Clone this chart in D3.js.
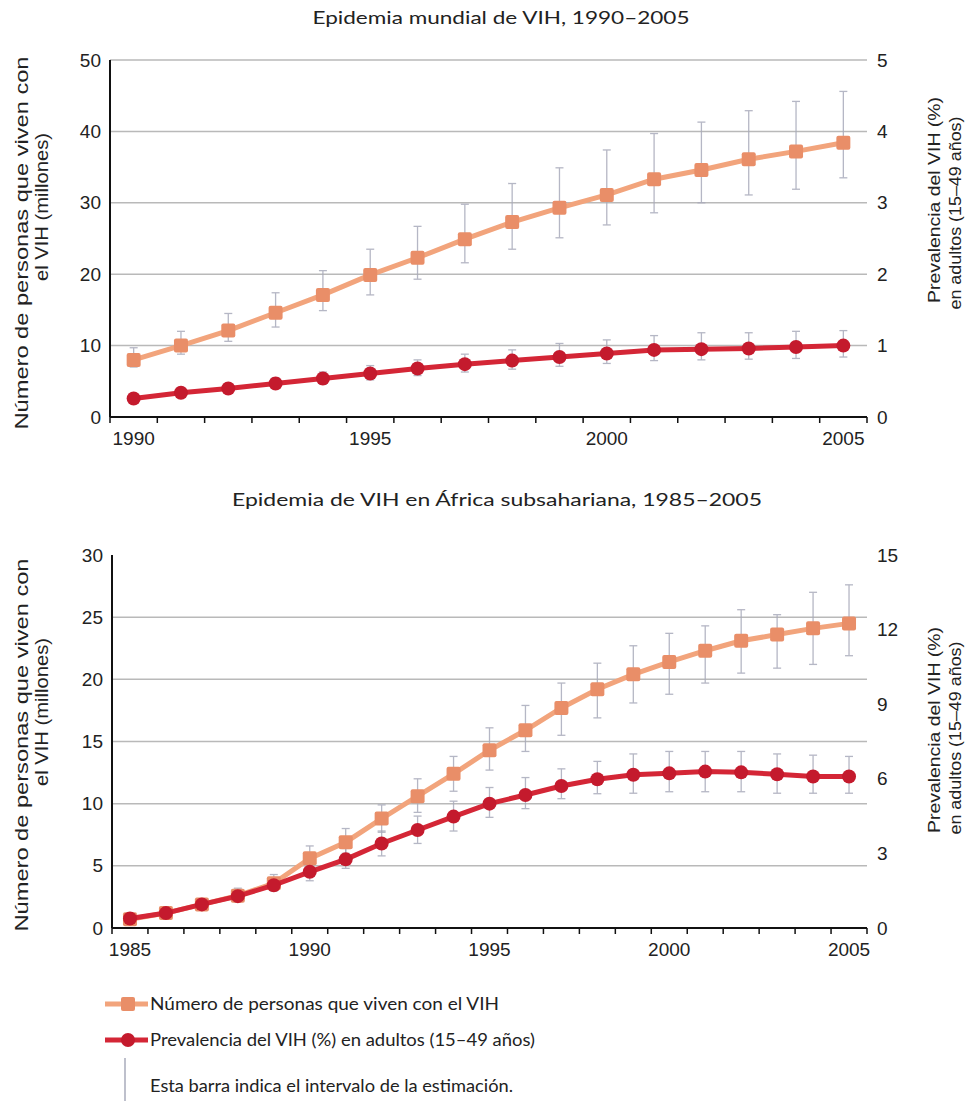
<!DOCTYPE html>
<html>
<head>
<meta charset="utf-8">
<script src="https://cdn.jsdelivr.net/npm/d3@7"></script>
<style>
  body { margin: 0; background: #fff; }
  svg { display: block; }
  .tick text { font-family: "Liberation Sans", Arial, sans-serif; font-size: 19px; fill: #222; }
</style>
</head>
<body>
<div id="chart"></div>
<script>
const width = 973;
const height = 1101;

// world, 1990-2005
const worldYears = [1990, 1991, 1992, 1993, 1994, 1995, 1996, 1997, 1998, 1999, 2000, 2001, 2002, 2003, 2004, 2005];
const worldPeople = [8.0, 10.0, 12.1, 14.6, 17.1, 19.9, 22.3, 24.9, 27.3, 29.3, 31.1, 33.3, 34.6, 36.1, 37.2, 38.4];
const worldPeopleLow = [7.0, 8.8, 10.6, 12.6, 14.9, 17.1, 19.3, 21.6, 23.5, 25.1, 26.9, 28.6, 30.0, 31.1, 31.9, 33.5];
const worldPeopleHigh = [9.7, 12.0, 14.5, 17.4, 20.5, 23.5, 26.7, 29.8, 32.7, 34.9, 37.4, 39.7, 41.3, 42.9, 44.2, 45.6];
const worldPrev = [0.26, 0.34, 0.40, 0.47, 0.54, 0.61, 0.68, 0.74, 0.79, 0.84, 0.89, 0.94, 0.95, 0.96, 0.98, 1.0];
const worldPrevLow = [0.22, 0.29, 0.34, 0.40, 0.46, 0.52, 0.58, 0.63, 0.67, 0.71, 0.75, 0.79, 0.80, 0.81, 0.82, 0.84];
const worldPrevHigh = [0.30, 0.39, 0.46, 0.55, 0.63, 0.72, 0.80, 0.88, 0.94, 1.03, 1.08, 1.14, 1.18, 1.18, 1.20, 1.21];

// sub-Saharan Africa, 1985-2005
const africaYears = [1985, 1986, 1987, 1988, 1989, 1990, 1991, 1992, 1993, 1994, 1995, 1996, 1997, 1998, 1999, 2000, 2001, 2002, 2003, 2004, 2005];
const africaPeople = [0.7, 1.2, 1.9, 2.6, 3.6, 5.6, 6.9, 8.8, 10.6, 12.4, 14.3, 15.9, 17.7, 19.2, 20.4, 21.4, 22.3, 23.1, 23.6, 24.1, 24.5];
const africaPeopleLow = [0.5, 0.9, 1.5, 2.1, 3.0, 4.7, 6.0, 7.7, 9.3, 11.0, 12.7, 14.2, 15.5, 16.9, 18.1, 18.8, 19.7, 20.5, 20.9, 21.2, 21.9];
const africaPeopleHigh = [0.9, 1.5, 2.3, 3.2, 4.3, 6.6, 8.0, 9.9, 12.0, 13.8, 16.1, 17.9, 19.7, 21.3, 22.7, 23.7, 24.3, 25.6, 25.2, 27.0, 27.6];
const africaPrev = [0.38, 0.60, 0.95, 1.28, 1.72, 2.26, 2.76, 3.40, 3.94, 4.48, 5.00, 5.35, 5.71, 5.98, 6.16, 6.22, 6.29, 6.26, 6.18, 6.09, 6.09];
const africaPrevLow = [0.30, 0.50, 0.80, 1.10, 1.50, 1.90, 2.40, 2.90, 3.40, 3.90, 4.45, 4.80, 5.20, 5.40, 5.42, 5.48, 5.48, 5.48, 5.42, 5.42, 5.42];
const africaPrevHigh = [0.45, 0.70, 1.10, 1.50, 2.00, 2.60, 3.20, 3.90, 4.50, 5.10, 5.65, 6.05, 6.40, 6.70, 7.00, 7.10, 7.10, 7.10, 7.00, 6.95, 6.90];

const titles = ["Epidemia mundial de VIH, 1990\u20132005", "Epidemia de VIH en \u00c1frica subsahariana, 1985\u20132005"];
const leftTitle = ["N\u00famero de personas que viven con", "el VIH  (millones)"];
const rightTitle = ["Prevalencia del VIH (%)", "en adultos (15\u201349 a\u00f1os)"];
const legendLabels = [
  "N\u00famero de personas que viven con el VIH",
  "Prevalencia del VIH (%) en adultos (15\u201349 a\u00f1os)",
  "Esta barra indica el intervalo de la estimaci\u00f3n."
];

const orange = "#f2a47c";
const orangeMark = "#e98e68";
const red = "#d42636";
const redMark = "#c41a2d";
const barColor = "#a9abbb";

const svg = d3.select("#chart")
  .append("svg")
  .attr("width", width)
  .attr("height", height);

function drawPanel(opt) {
  const g = svg.append("g");

  const x = d3.scaleBand().domain(opt.years).range([opt.x0, opt.x1]);
  const yL = d3.scaleLinear().domain([0, opt.leftMax]).range([opt.yBot, opt.yTop]);
  const yR = d3.scaleLinear().domain([0, opt.rightMax]).range([opt.yBot, opt.yTop]);
  const cx = d => x(d) + x.bandwidth() / 2;

  // title
  g.append("text")
    .attr("x", opt.titleX)
    .attr("y", opt.titleY)
    .attr("text-anchor", "middle")
    .attr("textLength", opt.titleLen)
    .attr("lengthAdjust", "spacingAndGlyphs")
    .style("font-family", "Lato, sans-serif")
    .style("font-size", "18px")
    .style("fill", "#222")
    .text(opt.title);

  // gridlines
  g.selectAll(".grid")
    .data(opt.gridVals)
    .enter()
    .append("line")
    .attr("x1", opt.x0)
    .attr("x2", opt.x1)
    .attr("y1", d => yL(d))
    .attr("y2", d => yL(d))
    .attr("stroke", "#b9b9b9")
    .attr("stroke-width", 1.5);

  // left axis labels
  const leftAxis = g.append("g")
    .attr("transform", `translate(${opt.x0},0)`)
    .call(d3.axisLeft(yL).tickValues(opt.leftTicks).tickFormat(d3.format("d")).tickSize(0).tickPadding(9));
  leftAxis.select(".domain").remove();

  // right axis labels
  const rightAxis = g.append("g")
    .attr("transform", `translate(${opt.x1},0)`)
    .call(d3.axisRight(yR).tickValues(opt.rightTicks).tickFormat(d3.format("d")).tickSize(0).tickPadding(10));
  rightAxis.select(".domain").remove();

  // x axis labels at band centres
  const xAxis = g.append("g")
    .attr("transform", `translate(0,${opt.yBot})`)
    .call(d3.axisBottom(x).tickValues(opt.xLabels).tickSize(0).tickPadding(15));
  xAxis.select(".domain").remove();

  // axis lines and band-boundary ticks
  g.append("line")
    .attr("x1", opt.x0).attr("x2", opt.x0)
    .attr("y1", opt.yTop).attr("y2", opt.yBot)
    .attr("stroke", "#111").attr("stroke-width", 2);
  g.append("line")
    .attr("x1", opt.x0).attr("x2", opt.x1)
    .attr("y1", opt.yBot).attr("y2", opt.yBot)
    .attr("stroke", "#111").attr("stroke-width", 2);
  const bounds = opt.years.map(d => x(d)).concat([opt.x1]);
  g.selectAll(".xtick")
    .data(bounds)
    .enter()
    .append("line")
    .attr("x1", d => d).attr("x2", d => d)
    .attr("y1", opt.yBot).attr("y2", opt.yBot + 6)
    .attr("stroke", "#111").attr("stroke-width", 1.5);

  // axis titles
  [[22, opt.lt1c, 373], [42, opt.lt2c, 148]].forEach((p, i) => {
    g.append("text")
      .attr("transform", `translate(${p[0]},${p[1]}) rotate(-90)`)
      .attr("text-anchor", "middle")
      .attr("dy", "0.35em")
      .attr("textLength", p[2])
      .attr("lengthAdjust", "spacingAndGlyphs")
      .style("font-family", "Liberation Sans, Arial, sans-serif")
      .style("font-size", "18px")
      .style("fill", "#222")
      .text(leftTitle[i]);
  });
  [[934, opt.rt1c, 206], [955, opt.rt2c, 193]].forEach((p, i) => {
    g.append("text")
      .attr("transform", `translate(${p[0]},${p[1]}) rotate(-90)`)
      .attr("text-anchor", "middle")
      .attr("dy", "0.35em")
      .attr("textLength", p[2])
      .attr("lengthAdjust", "spacingAndGlyphs")
      .style("font-family", "Liberation Sans, Arial, sans-serif")
      .style("font-size", "17px")
      .style("fill", "#222")
      .text(rightTitle[i]);
  });

  // error bars
  function errorBars(lo, hi, scale) {
    const bars = g.append("g").attr("stroke", barColor).attr("stroke-width", 1.3).attr("opacity", 0.85);
    opt.years.forEach((yr, i) => {
      const px = cx(yr);
      bars.append("line").attr("x1", px).attr("x2", px).attr("y1", scale(lo[i])).attr("y2", scale(hi[i]));
      bars.append("line").attr("x1", px - 4).attr("x2", px + 4).attr("y1", scale(lo[i])).attr("y2", scale(lo[i]));
      bars.append("line").attr("x1", px - 4).attr("x2", px + 4).attr("y1", scale(hi[i])).attr("y2", scale(hi[i]));
    });
  }
  errorBars(opt.peopleLow, opt.peopleHigh, yL);
  errorBars(opt.prevLow, opt.prevHigh, yR);

  // lines
  const peopleLine = d3.line().x((d, i) => cx(opt.years[i])).y(d => yL(d));
  const prevLine = d3.line().x((d, i) => cx(opt.years[i])).y(d => yR(d));

  g.append("path")
    .datum(opt.people)
    .attr("d", peopleLine)
    .attr("fill", "none")
    .attr("stroke", orange)
    .attr("stroke-width", 5);

  g.selectAll(".sq")
    .data(opt.people)
    .enter()
    .append("rect")
    .attr("x", (d, i) => cx(opt.years[i]) - 7)
    .attr("y", d => yL(d) - 7)
    .attr("width", 14)
    .attr("height", 14)
    .attr("rx", 2)
    .attr("fill", orangeMark);

  g.append("path")
    .datum(opt.prev)
    .attr("d", prevLine)
    .attr("fill", "none")
    .attr("stroke", red)
    .attr("stroke-width", 5);

  g.selectAll(".dot")
    .data(opt.prev)
    .enter()
    .append("circle")
    .attr("cx", (d, i) => cx(opt.years[i]))
    .attr("cy", d => yR(d))
    .attr("r", 7)
    .attr("fill", redMark);
}

drawPanel({
  years: worldYears, people: worldPeople, peopleLow: worldPeopleLow, peopleHigh: worldPeopleHigh,
  prev: worldPrev, prevLow: worldPrevLow, prevHigh: worldPrevHigh,
  x0: 110, x1: 867, yTop: 60, yBot: 417,
  leftMax: 50, rightMax: 5,
  leftTicks: [0, 10, 20, 30, 40, 50], rightTicks: [0, 1, 2, 3, 4, 5],
  gridVals: [10, 20, 30, 40, 50],
  xLabels: [1990, 1995, 2000, 2005],
  title: titles[0], titleX: 501, titleY: 24, titleLen: 377,
  lt1c: 243, lt2c: 207, rt1c: 200, rt2c: 213
});

drawPanel({
  years: africaYears, people: africaPeople, peopleLow: africaPeopleLow, peopleHigh: africaPeopleHigh,
  prev: africaPrev, prevLow: africaPrevLow, prevHigh: africaPrevHigh,
  x0: 112, x1: 867, yTop: 555, yBot: 928,
  leftMax: 30, rightMax: 15,
  leftTicks: [0, 5, 10, 15, 20, 25, 30], rightTicks: [0, 3, 6, 9, 12, 15],
  gridVals: [5, 10, 15, 20, 25],
  xLabels: [1985, 1990, 1995, 2000, 2005],
  title: titles[1], titleX: 497, titleY: 506, titleLen: 530,
  lt1c: 745, lt2c: 712, rt1c: 730, rt2c: 738
});

// legend
const legend = svg.append("g");
const legendRows = [
  { y: 1004, color: orange, mark: orangeMark, shape: "rect" },
  { y: 1040, color: red, mark: redMark, shape: "circle" }
];
legendRows.forEach(r => {
  legend.append("line")
    .attr("x1", 105).attr("x2", 148)
    .attr("y1", r.y).attr("y2", r.y)
    .attr("stroke", r.color).attr("stroke-width", 5);
  if (r.shape === "rect") {
    legend.append("rect").attr("x", 121).attr("y", r.y - 7).attr("width", 14).attr("height", 14).attr("rx", 2).attr("fill", r.mark);
  } else {
    legend.append("circle").attr("cx", 128).attr("cy", r.y).attr("r", 7).attr("fill", r.mark);
  }
});
legend.append("line")
  .attr("x1", 125).attr("x2", 125)
  .attr("y1", 1058).attr("y2", 1101)
  .attr("stroke", barColor).attr("stroke-width", 1.5);

const legendPos = [[1004, 349], [1040, 385], [1086, 363]];
legend.selectAll(".lt")
  .data(legendLabels)
  .enter()
  .append("text")
  .attr("x", 150)
  .attr("y", (d, i) => legendPos[i][0])
  .attr("dy", "0.35em")
  .attr("textLength", (d, i) => legendPos[i][1])
  .attr("lengthAdjust", "spacingAndGlyphs")
  .style("font-family", "Lato, sans-serif")
  .style("font-size", "17px")
  .style("fill", "#222")
  .text(d => d);
</script>
</body>
</html>
